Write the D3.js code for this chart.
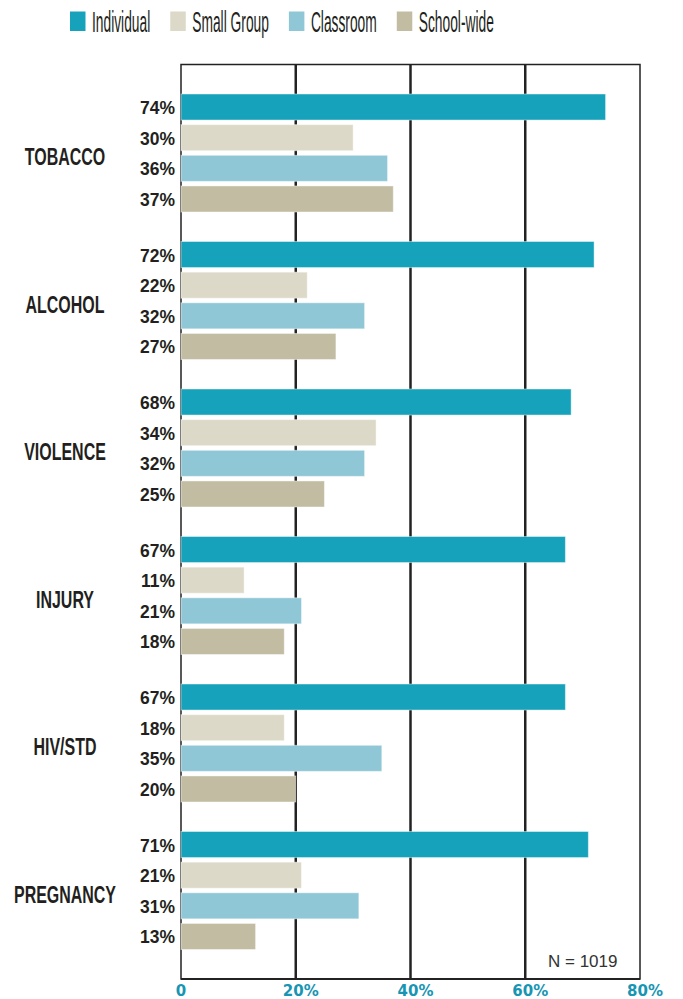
<!DOCTYPE html>
<html>
<head>
<meta charset="utf-8">
<script src="https://cdn.jsdelivr.net/npm/d3@7"></script>
<style>
  body { margin: 0; background: #fff; }
  svg { display: block; }
</style>
</head>
<body>
<div class="chart"></div>
<script>
// chart data
var categories = ["TOBACCO", "ALCOHOL", "VIOLENCE", "INJURY", "HIV/STD", "PREGNANCY"];
var seriesNames = ["Individual", "Small Group", "Classroom", "School-wide"];
var individual = [74, 72, 68, 67, 67, 71];
var smallGroup = [30, 22, 34, 11, 18, 21];
var classroom = [36, 32, 32, 21, 35, 31];
var schoolWide = [37, 27, 25, 18, 20, 13];
var xTicks = [0, 20, 40, 60, 80];
var sampleNote = "N = 1019";

var colors = ["#17a2bb", "#dcd9c8", "#8fc7d6", "#c2bca3"];
var seriesValues = [individual, smallGroup, classroom, schoolWide];

var svgWidth = 683;
var svgHeight = 999;

var plot = { left: 181, right: 640, top: 64.5, bottom: 979 };

var svg = d3.select(".chart")
  .append("svg")
  .attr("width", svgWidth)
  .attr("height", svgHeight);

// scales
var xScale = d3.scaleLinear()
  .domain([0, 80])
  .range([plot.left, plot.right]);

var groupScale = d3.scaleBand()
  .domain(categories)
  .range([plot.top, plot.bottom])
  .paddingInner(0.2)
  .paddingOuter(0.2)
  .align(0.5);

var barScale = d3.scaleBand()
  .domain(seriesNames)
  .range([0, groupScale.bandwidth()])
  .paddingInner(0.15);

// helper for squeezed text (condensed look)
function squeezed(parent, x, y, str, sx, anchor) {
  return parent.append("text")
    .attr("transform", `translate(${x},${y}) scale(${sx},1)`)
    .attr("text-anchor", anchor)
    .text(str);
}

// gridlines
svg.append("g")
  .selectAll("line")
  .data(xTicks.slice(1, -1))
  .enter()
  .append("line")
  .attr("x1", d => xScale(d))
  .attr("x2", d => xScale(d))
  .attr("y1", plot.top)
  .attr("y2", plot.bottom)
  .attr("stroke", "#222")
  .attr("stroke-width", 2.5);

// frame
svg.append("rect")
  .attr("x", plot.left)
  .attr("y", plot.top)
  .attr("width", plot.right - plot.left)
  .attr("height", plot.bottom - plot.top)
  .attr("fill", "none")
  .attr("stroke", "#222")
  .attr("stroke-width", 1.5);

svg.append("line")
  .attr("x1", plot.left)
  .attr("x2", plot.right)
  .attr("y1", plot.bottom)
  .attr("y2", plot.bottom)
  .attr("stroke", "#222")
  .attr("stroke-width", 2);

// bars
var groups = svg.append("g")
  .selectAll("g")
  .data(categories)
  .enter()
  .append("g")
  .attr("transform", d => `translate(0,${groupScale(d)})`);

groups.each(function(cat, ci) {
  var g = d3.select(this);
  seriesNames.forEach(function(name, si) {
    var v = seriesValues[si][ci];
    g.append("rect")
      .attr("x", xScale(0))
      .attr("y", barScale(name))
      .attr("width", xScale(v) - xScale(0))
      .attr("height", barScale.bandwidth())
      .attr("fill", colors[si])
      .attr("stroke", "#ffffff")
      .attr("stroke-opacity", 0.45)
      .attr("stroke-width", 1);

    squeezed(g, plot.left - 6, barScale(name) + barScale.bandwidth() / 2 + 7, v + "%", 0.92, "end")
      .attr("font-family", "'Liberation Sans', Arial, sans-serif")
      .attr("font-weight", "bold")
      .attr("font-size", 19)
      .attr("fill", "#231f20");
  });

  // category label
  squeezed(g, 65, groupScale.bandwidth() / 2 + 12, cat, 0.68, "middle")
    .attr("font-family", "'Liberation Sans', Arial, sans-serif")
    .attr("font-weight", "bold")
    .attr("font-size", 23.5)
    .attr("fill", "#231f20");
});

// x axis labels
svg.append("g")
  .selectAll("text")
  .data(xTicks)
  .enter()
  .append("text")
  .attr("x", d => xScale(d) + (d === 0 ? 0 : 5))
  .attr("y", 995.5)
  .attr("text-anchor", "middle")
  .attr("font-family", "'DejaVu Sans', sans-serif")
  .attr("font-weight", "bold")
  .attr("font-size", 15)
  .attr("fill", "#1795b3")
  .text(d => d === 0 ? "0" : d + "%");

// sample size note
svg.append("text")
  .attr("x", 548)
  .attr("y", 967)
  .attr("font-family", "'Liberation Sans', Arial, sans-serif")
  .attr("font-size", 17)
  .attr("fill", "#333")
  .text(sampleNote);

// legend
var legend = svg.append("g");
var lx = 70;
seriesNames.forEach(function(name, i) {
  legend.append("rect")
    .attr("x", lx)
    .attr("y", 11.5)
    .attr("width", 15.5)
    .attr("height", 19.5)
    .attr("fill", colors[i]);

  var t = squeezed(legend, lx + 22, 31.5, name, 0.46, "start")
    .attr("font-family", "'Liberation Sans', Arial, sans-serif")
    .attr("font-size", 30)
    .attr("fill", "#231f20");

  var w = t.node().getComputedTextLength() * 0.46;
  lx = lx + 22 + w + 20;
});
</script>
</body>
</html>
